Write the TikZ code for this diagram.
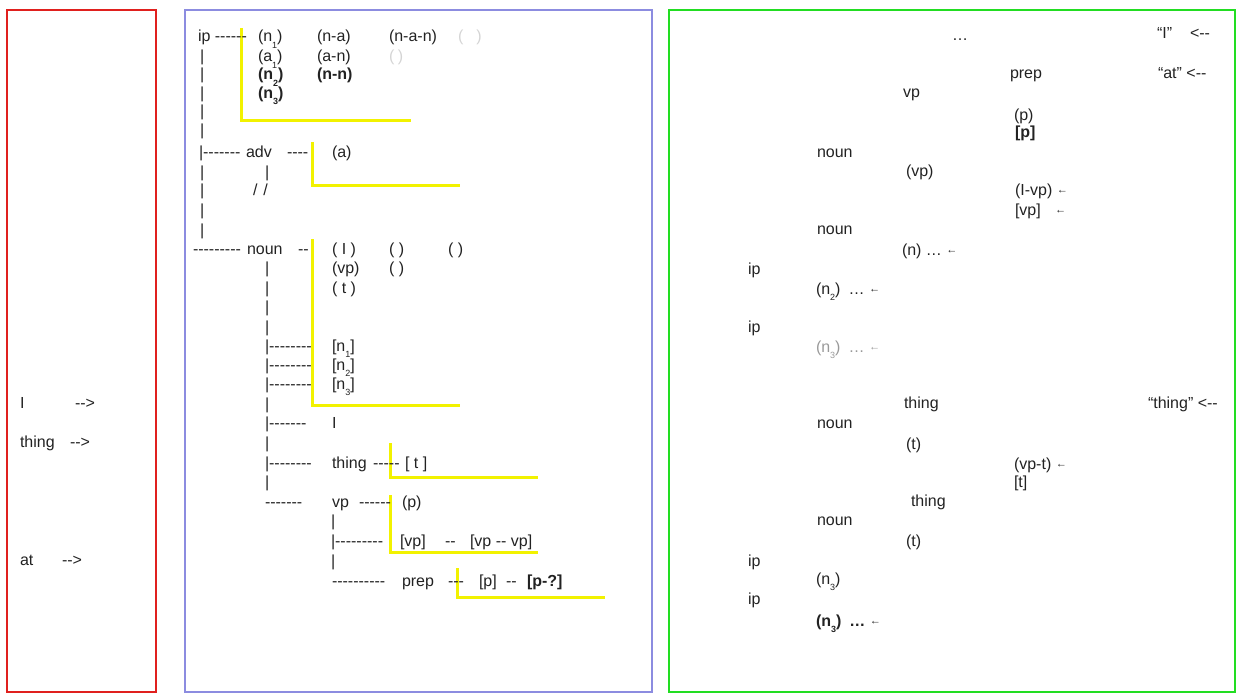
\documentclass[tikz,border=0pt]{standalone}
\usepackage{fontspec}
\newfontfamily\ar{Liberation Sans}
\definecolor{tx}{HTML}{222222}
\definecolor{lgray}{HTML}{D4D4D4}
\definecolor{mgray}{HTML}{999999}
\definecolor{frred}{HTML}{E0201E}
\definecolor{frblue}{HTML}{8C8CE0}
\definecolor{frgreen}{HTML}{22DD22}
\definecolor{hl}{HTML}{F2F200}
\newcommand\lsub[1]{\raisebox{-0.42em}{\fontsize{9}{9}\selectfont #1}}
\newcommand\la{\raisebox{1.5pt}{\fontsize{11}{11}\selectfont ←}}
\begin{document}
\begin{tikzpicture}[x=1pt,y=-1pt,
  t/.style={anchor=base west,inner sep=0pt,outer sep=0pt,font=\ar\fontsize{16}{19}\selectfont,text=tx},
  tb/.style={t,font=\ar\fontsize{16}{19}\selectfont\bfseries},
  frame/.style={line width=2pt},
  yl/.style={draw=hl,line width=3pt}]
\useasboundingbox (0,0) rectangle (1237,693);
% frames
\draw[frame,draw=frred] (7,10) rectangle (156,692);
\draw[frame,draw=frblue] (185,10) rectangle (652,692);
\draw[frame,draw=frgreen] (669,10) rectangle (1235,692);

% yellow brackets
\draw[yl] (241,28) -- (241,120) -- (411,120);
\draw[yl] (312,142) -- (312,185) -- (460,185);
\draw[yl] (312,239) -- (312,405) -- (460,405);
\draw[yl] (390,443) -- (390,477) -- (538,477);
\draw[yl] (390,495) -- (390,552) -- (538,552);
\draw[yl] (457,568) -- (457,597) -- (605,597);

% left panel
\node[t] (lI) at (20,408) {I};
\node[t] (lIa) at (75,408) {-->};
\node[t] (lth) at (20,447) {thing};
\node[t] (ltha) at (70,447) {-->};
\node[t] (lat) at (20,565) {at};
\node[t] (lata) at (62,565) {-->};

% middle panel
\node[t] (ip) at (198,42) {ip ------};
\node[t] (m11) at (258,42) {(n\lsub1)};
\node[t] (m12) at (317,42) {(n-a)};
\node[t] (m13) at (389,42) {(n-a-n)};
\node[t,text=lgray] (m14) at (458,42) {(\hspace{13pt})};
\node[t] (b2) at (200,62) {|};
\node[t] (m21) at (258,62) {(a\lsub1)};
\node[t] (m22) at (317,62) {(a-n)};
\node[t,text=lgray] (m23) at (389,62) {(\hspace{3.5pt})};
\node[t] (b3) at (200,80) {|};
\node[tb] (m31) at (258,80) {(n\lsub2)};
\node[tb] (m32) at (317,80) {(n-n)};
\node[t] (b4) at (200,98) {|};
\node[tb] (m41) at (258,98) {(n\lsub3)};
\node[t] (b5) at (200,117) {|};
\node[t] (b6) at (200,135) {|};
\node[t] (advd) at (199,157) {|-------};
\node[t] (adv) at (246,157) {adv};
\node[t] (advd2) at (287,157) {----};
\node[t] (a) at (332,157) {(a)};
\node[t] (b8) at (200,177) {|};
\node[t] (b8b) at (265,177) {|};
\node[t] (b9) at (200,195) {|};
\node[t] (sl) at (253,195) {/\hspace{6pt}/};
\node[t] (b10) at (200,215) {|};
\node[t] (b11) at (200,235) {|};
\node[t] (nound) at (193,254) {---------};
\node[t] (noun) at (247,254) {noun};
\node[t] (nound2) at (298,254) {--};
\node[t] (nI) at (332,254) {( I )};
\node[t] (ne1) at (389,254) {( )};
\node[t] (ne2) at (448,254) {( )};
\node[t] (c1) at (265,273) {|};
\node[t] (nvp) at (332,273) {(vp)};
\node[t] (ne3) at (389,273) {( )};
\node[t] (c2) at (265,293) {|};
\node[t] (nt) at (332,293) {( t )};
\node[t] (c3) at (265,312) {|};
\node[t] (c4) at (265,332) {|};
\node[t] (c5) at (265,351) {|--------};
\node[t] (bn1) at (332,351) {[n\lsub1]};
\node[t] (c6) at (265,370) {|--------};
\node[t] (bn2) at (332,370) {[n\lsub2]};
\node[t] (c7) at (265,389) {|--------};
\node[t] (bn3) at (332,389) {[n\lsub3]};
\node[t] (c8) at (265,409) {|};
\node[t] (c9) at (265,428) {|-------};
\node[t] (mI) at (332,428) {I};
\node[t] (c10) at (265,448) {|};
\node[t] (c11) at (265,468) {|--------};
\node[t] (thing) at (332,468) {thing};
\node[t] (thd) at (373,468) {-----};
\node[t] (tt) at (405,468) {[ t ]};
\node[t] (c12) at (265,487) {|};
\node[t] (c13) at (265,507) {-------};
\node[t] (vp) at (332,507) {vp};
\node[t] (vpd) at (359,507) {------};
\node[t] (vpp) at (402,507) {(p)};
\node[t] (d1) at (331,526) {|};
\node[t] (d2) at (331,546) {|---------};
\node[t] (bvp) at (400,546) {[vp]};
\node[t] (bvpd) at (445,546) {--};
\node[t] (bvpvp) at (470,546) {[vp -- vp]};
\node[t] (d3) at (331,566) {|};
\node[t] (d4) at (332,586) {----------};
\node[t] (prep) at (402,586) {prep};
\node[t] (prepd) at (448,586) {---};
\node[t] (pp) at (479,586) {[p]};
\node[t] (ppd) at (506,586) {--};
\node[tb] (pq) at (527,586) {[p-?]};

% right panel
\node[t] (r1) at (952,41) {…};
\node[t] (r2) at (1157,39) {“I”};
\node[t] (r2a) at (1190,39) {<--};
\node[t] (r3) at (1010,78) {prep};
\node[t] (r4) at (1158,78) {“at” <--};
\node[t] (r5) at (903,97) {vp};
\node[t] (r6) at (1014,121) {(p)};
\node[tb] (r7) at (1015,137) {[p]};
\node[t] (r8) at (817,157) {noun};
\node[t] (r9) at (906,176) {(vp)};
\node[t] (r10) at (1015,195) {(I-vp) \la};
\node[t] (r11) at (1015,215) {[vp]};
\node[t] (r11a) at (1055,215) {\la};
\node[t] (r12) at (817,234) {noun};
\node[t] (r13) at (902,255) {(n) … \la};
\node[t] (r14) at (748,274) {ip};
\node[t] (r15) at (816,294) {(n\lsub2)\hspace{8pt}… \la};
\node[t] (r16) at (748,332) {ip};
\node[t,text=mgray] (r17) at (816,352) {(n\lsub3)\hspace{8pt}… \la};
\node[t] (r18) at (904,408) {thing};
\node[t] (r19) at (1148,408) {“thing” <--};
\node[t] (r20) at (817,428) {noun};
\node[t] (r21) at (906,449) {(t)};
\node[t] (r22) at (1014,469) {(vp-t) \la};
\node[t] (r23) at (1014,487) {[t]};
\node[t] (r24) at (911,506) {thing};
\node[t] (r25) at (817,525) {noun};
\node[t] (r26) at (906,546) {(t)};
\node[t] (r27) at (748,566) {ip};
\node[t] (r28) at (816,584) {(n\lsub3)};
\node[t] (r29) at (748,604) {ip};
\node[tb] (r30) at (816,626) {(n\lsub3)\hspace{8pt}… \la};
\end{tikzpicture}
\end{document}
